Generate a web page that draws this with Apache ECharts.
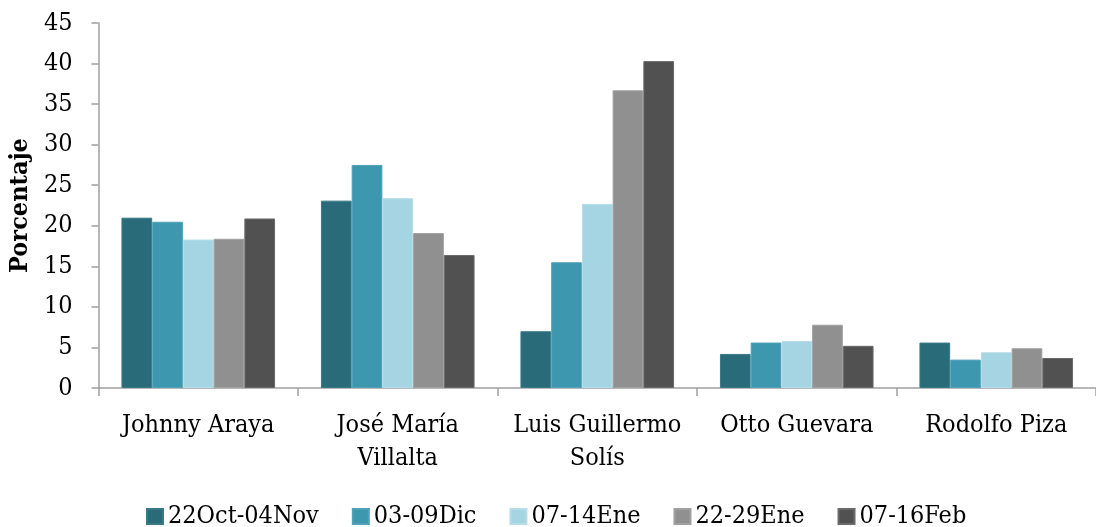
<!DOCTYPE html>
<html><head><meta charset="utf-8">
<script src="https://cdn.jsdelivr.net/npm/echarts@6/dist/echarts.min.js"></script>
<style>html,body{margin:0;padding:0;background:#fff}#c{width:1096px;height:527px}</style>
</head><body><div id="c"></div>
<script>
const categories = ["Johnny Araya", "José María\nVillalta", "Luis Guillermo\nSolís", "Otto Guevara", "Rodolfo Piza"];
const seriesNames = ["22Oct-04Nov", "03-09Dic", "07-14Ene", "22-29Ene", "07-16Feb"];
const s1 = [21.0, 23.1, 7.0, 4.2, 5.6];
const s2 = [20.5, 27.5, 15.5, 5.6, 3.5];
const s3 = [18.3, 23.4, 22.7, 5.8, 4.4];
const s4 = [18.4, 19.1, 36.7, 7.8, 4.9];
const s5 = [20.9, 16.4, 40.3, 5.2, 3.7];
const yTicks = [0, 5, 10, 15, 20, 25, 30, 35, 40, 45];

const colors = ["#2A6B7A", "#3D97AE", "#A5D5E3", "#909090", "#515151"];
const borders = ["#3A7A88", "#4FA2B7", "#B5DDE8", "#A0A0A0", "#6A6A6A"];
const values = [s1, s2, s3, s4, s5];
const FONT = "DejaVu Serif Condensed";

const chart = echarts.init(document.getElementById('c'), null, {renderer: 'canvas'});
chart.setOption({
  animation: false,
  color: colors,
  grid: {left: 98, right: -17, top: 23, bottom: 139, containLabel: false},
  legend: {
    top: 499, left: 141, itemWidth: 16, itemHeight: 15, itemGap: 33,
    icon: 'rect',
    textStyle: {fontFamily: FONT, fontSize: 25, color: '#000'},
    data: seriesNames
  },
  xAxis: {
    type: 'category', data: categories,
    axisLine: {lineStyle: {color: '#A0A0A0', width: 1.5}},
    axisTick: {show: true, length: 8, lineStyle: {color: '#A0A0A0', width: 1.5}},
    axisLabel: {fontFamily: FONT, fontSize: 25, color: '#000', margin: 21, lineHeight: 33, interval: 0}
  },
  yAxis: {
    type: 'value', min: 0, max: 45, interval: 5,
    name: 'Porcentaje', nameLocation: 'middle', nameGap: 65,
    nameTextStyle: {fontFamily: FONT, fontSize: 25, fontWeight: 'bold', color: '#000'},
    axisLine: {show: true, lineStyle: {color: '#A0A0A0', width: 1.5}},
    axisTick: {show: true, length: 7, lineStyle: {color: '#A0A0A0', width: 1.5}},
    splitLine: {show: false},
    axisLabel: {fontFamily: FONT, fontSize: 25, color: '#000', margin: 26,
      formatter: v => yTicks.includes(v) ? String(v) : ''}
  },
  series: seriesNames.map((n, i) => ({
    name: n, type: 'bar', data: values[i],
    barGap: '0%', barCategoryGap: '23%',
    itemStyle: {color: colors[i], borderColor: borders[i], borderWidth: 1}
  }))
});
</script></body></html>
